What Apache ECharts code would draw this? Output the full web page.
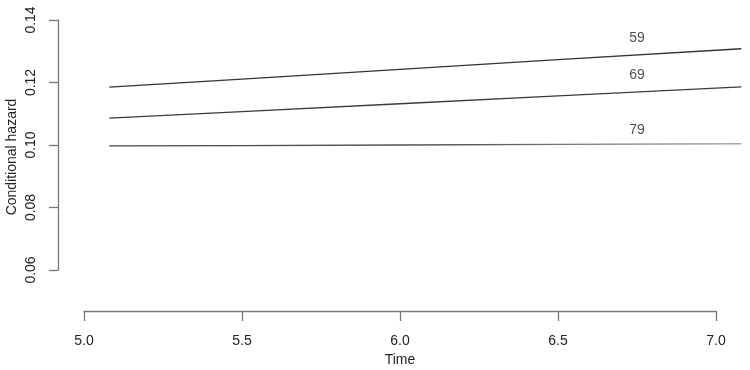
<!DOCTYPE html>
<html>
<head>
<meta charset="utf-8">
<script src="https://cdn.jsdelivr.net/npm/echarts@6/dist/echarts.min.js"></script>
<style>html,body{margin:0;padding:0;background:#fff}#c{width:750px;height:370px}</style>
</head>
<body>
<div id="c"></div>
<script>
var time = [5.08, 5.5, 6.0, 6.5, 7.08];
var h59 = [0.1185, 0.1211, 0.1242, 0.1273, 0.1308];
var h69 = [0.1086, 0.1107, 0.1132, 0.1157, 0.1186];
var h79 = [0.0997, 0.0998, 0.1000, 0.1002, 0.1004];
var curveLabels = ['59', '69', '79'];
var labelX = [6.75, 6.75, 6.75];
var labelY = [0.1343, 0.1225, 0.1046];

function pairs(xs, ys) { return xs.map(function (x, i) { return [x, ys[i]]; }); }

var font = 'Liberation Sans, Arial, Helvetica, sans-serif';
var chart = echarts.init(document.getElementById('c'), null, { renderer: 'canvas' });
var lineCommon = { type: 'line', xAxisIndex: 1, yAxisIndex: 1, showSymbol: false, symbol: 'none', clip: false, animation: false, silent: true };
var axisGray = '#777';
chart.setOption({
  animation: false,
  backgroundColor: '#fff',
  textStyle: { fontFamily: font },
  grid: [
    { left: 84, right: 34, top: 20, bottom: 100, containLabel: false, outerBoundsMode: 'none' },
    { left: 84, right: 2.4, top: 20, bottom: 100, containLabel: false, outerBoundsMode: 'none' }
  ],
  xAxis: [{
    gridIndex: 0, type: 'value', min: 5.0, max: 7.0, interval: 0.5, offset: 41,
    name: 'Time', nameLocation: 'middle', nameGap: 42, nameMoveOverlap: false,
    nameTextStyle: { color: '#222', fontSize: 14, fontFamily: font },
    axisLine: { show: true, lineStyle: { color: axisGray, width: 1.3 } },
    axisTick: { show: true, length: 10, lineStyle: { color: axisGray, width: 1.3 } },
    axisLabel: { color: '#222', fontSize: 14, margin: 23, fontFamily: font, formatter: function (v) { return v.toFixed(1); } },
    splitLine: { show: false }
  }, {
    gridIndex: 1, type: 'value', min: 5.0, max: 7.1, show: false,
    axisLine: { show: false }, axisTick: { show: false }, axisLabel: { show: false }, splitLine: { show: false }
  }],
  yAxis: [{
    gridIndex: 0, type: 'value', min: 0.06, max: 0.14, interval: 0.02, offset: 26,
    name: 'Conditional hazard', nameLocation: 'middle', nameGap: 39, nameRotate: 90, nameMoveOverlap: false,
    nameTextStyle: { color: '#222', fontSize: 14, fontFamily: font, padding: [0, 24, 0, 0] },
    axisLine: { show: true, lineStyle: { color: axisGray, width: 1.3 } },
    axisTick: { show: true, length: 9, lineStyle: { color: axisGray, width: 1.3 } },
    axisLabel: { color: '#222', fontSize: 14, margin: 20, rotate: 90, fontFamily: font, formatter: function (v) { return v.toFixed(2); } },
    splitLine: { show: false }
  }, {
    gridIndex: 1, type: 'value', min: 0.06, max: 0.14, show: false,
    axisLine: { show: false }, axisTick: { show: false }, axisLabel: { show: false }, splitLine: { show: false }
  }],
  series: [
    Object.assign({}, lineCommon, { name: '59', data: pairs(time, h59), lineStyle: { color: '#333', width: 1.3 } }),
    Object.assign({}, lineCommon, { name: '69', data: pairs(time, h69), lineStyle: { color: '#3a3a3a', width: 1.3 } }),
    Object.assign({}, lineCommon, { name: '79', data: pairs(time, h79), lineStyle: { width: 1.3,
      color: new echarts.graphic.LinearGradient(0, 0, 1, 0, [{ offset: 0, color: '#444' }, { offset: 0.55, color: '#555' }, { offset: 1, color: '#aaa' }]) } }),
    {
      type: 'scatter', xAxisIndex: 1, yAxisIndex: 1, symbolSize: 0, clip: false, silent: true, animation: false,
      data: curveLabels.map(function (t, i) { return { name: t, value: [labelX[i], labelY[i]] }; }),
      label: { show: true, position: 'inside', color: '#222', fontSize: 14, fontFamily: font, formatter: function (p) { return p.name; } }
    }
  ]
});
</script>
</body>
</html>
